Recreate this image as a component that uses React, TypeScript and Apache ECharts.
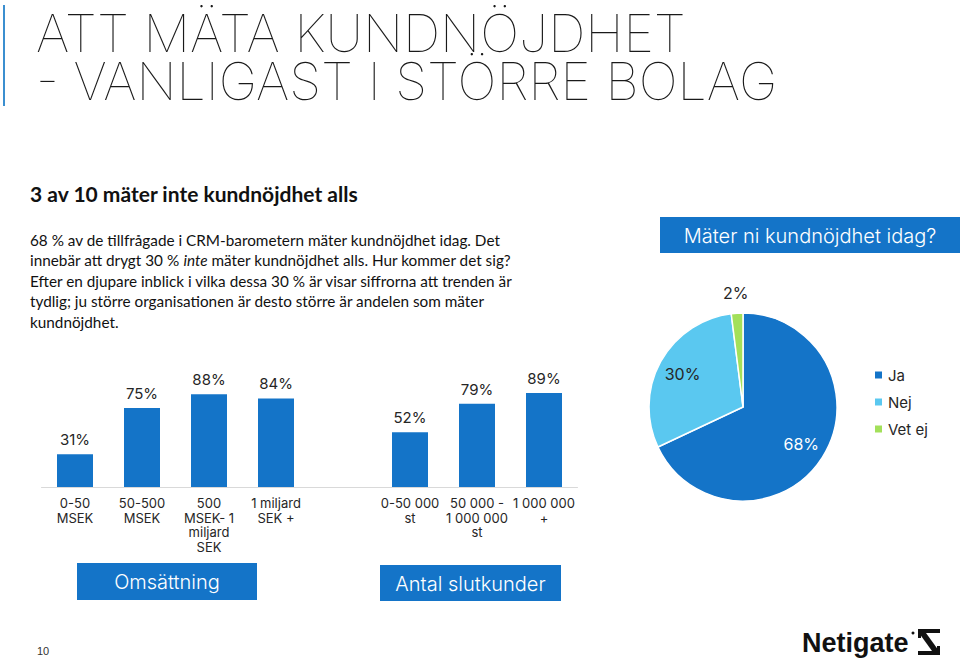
import React, { useEffect, useRef } from "react";
import * as echarts from "echarts";

// ---------- data ----------
const barCategories = [
  "0-50\nMSEK",
  "50-500\nMSEK",
  "500\nMSEK- 1\nmiljard\nSEK",
  "1 miljard\nSEK +",
  "",
  "0-50 000\nst",
  "50 000 -\n1 000 000\nst",
  "1 000 000\n+",
];
const revenueShare = [31, 75, 88, 84];
const customerShare = [52, 79, 89];

const pieNames = ["Ja", "Nej", "Vet ej"];
const pieValues = [68, 30, 2];

// ---------- styles ----------
const BLUE = "#1474c8";
const pieColors = ["#1474c8", "#5ac8f0", "#a3e05a"];
const GEO = "Inter, 'Noto Sans', sans-serif";
const BODY = "Lato, 'Open Sans', sans-serif";
const DARK = "#262626";

export default function App() {
  const ref = useRef<HTMLDivElement>(null);

  useEffect(() => {
    if (!ref.current) return;
    const chart = echarts.init(ref.current, undefined, { renderer: "svg" });

    const barData = [...revenueShare, "-", ...customerShare];
    const pieData = pieNames.map((n, i) => ({
      name: n,
      value: pieValues[i],
      itemStyle: { color: pieColors[i] },
    }));
    const innerLabelData = pieNames.map((n, i) => ({
      name: "lbl-" + n,
      value: pieValues[i],
      label: {
        show: i < 2,
        color: i === 0 ? "#ffffff" : DARK,
      },
    }));
    const outerLabelData = pieNames.map((n, i) => ({
      name: "out-" + n,
      value: pieValues[i],
      label: { show: i === 2, color: DARK },
    }));

    const paragraph = [
      "{n|68 % av de tillfrågade i CRM-barometern mäter kundnöjdhet idag. Det}",
      "{n|innebär att drygt 30 % }{i|inte}{n| mäter kundnöjdhet alls. Hur kommer det sig?}",
      "{n|Efter en djupare inblick i vilka dessa 30 % är visar siffrorna att trenden är}",
      "{n|tydlig; ju större organisationen är desto större är andelen som mäter}",
      "{n|kundnöjdhet.}",
    ].join("\n");

    chart.setOption({
      animation: false,
      backgroundColor: "#ffffff",
      grid: { left: 41.5, width: 536, top: 381.5, height: 105.5, containLabel: false },
      xAxis: {
        type: "category",
        data: barCategories,
        axisTick: { show: false },
        axisLine: { lineStyle: { color: "#d9d9d9", width: 1 } },
        axisLabel: {
          interval: 0,
          margin: 9,
          fontSize: 13,
          lineHeight: 14.5,
          color: DARK,
          fontFamily: GEO,
          verticalAlign: "top",
        },
      },
      yAxis: { type: "value", min: 0, max: 100, show: false },
      legend: {
        data: pieNames,
        orient: "vertical",
        left: 873,
        top: 366,
        padding: 0,
        itemWidth: 9,
        itemHeight: 9,
        itemGap: 9,
        icon: "rect",
        textStyle: { fontSize: 15, color: DARK, fontFamily: GEO, lineHeight: 18 },
      },
      series: [
        {
          type: "bar",
          data: barData,
          barWidth: 36,
          itemStyle: { color: BLUE },
          label: {
            show: true,
            position: "top",
            distance: 7,
            formatter: "{c}%",
            fontSize: 15,
            color: DARK,
            fontFamily: GEO,
          },
        },
        {
          type: "pie",
          center: [743, 407],
          radius: 94,
          startAngle: 90,
          clockwise: true,
          data: pieData,
          label: { show: false },
          labelLine: { show: false },
          itemStyle: { borderColor: "#ffffff", borderWidth: 1.5 },
          z: 2,
        },
        {
          type: "pie",
          center: [743, 407],
          radius: [0, 132],
          startAngle: 90,
          clockwise: true,
          silent: true,
          data: innerLabelData,
          itemStyle: { color: "rgba(0,0,0,0)" },
          label: {
            position: "inside",
            formatter: "{c}%",
            fontSize: 16,
            fontFamily: GEO,
          },
          labelLine: { show: false },
          z: 3,
        },
        {
          type: "pie",
          center: [743, 407],
          radius: [98, 124],
          startAngle: 90,
          clockwise: true,
          silent: true,
          data: outerLabelData,
          itemStyle: { color: "rgba(0,0,0,0)" },
          label: {
            position: "inside",
            formatter: "{c}%",
            fontSize: 16,
            fontFamily: GEO,
          },
          labelLine: { show: false },
          z: 3,
        },
      ],
      graphic: [
        {
          type: "line",
          shape: { x1: 4, y1: 5, x2: 4, y2: 106 },
          style: { stroke: "#3b8fd0", lineWidth: 2 },
        },
        {
          type: "text",
          x: 36,
          y: 9,
          style: {
            text: "ATT MÄTA KUNDNÖJDHET\n- VANLIGAST I STÖRRE BOLAG",
            fontSize: 52,
            lineHeight: 48,
            fontWeight: 100,
            fontFamily: GEO,
            fill: "#1a1a1a",
            textAlign: "left",
            textVerticalAlign: "top",
          },
        },
        {
          type: "text",
          x: 30,
          y: 193,
          style: {
            text: "3 av 10 mäter inte kundnöjdhet alls",
            fontSize: 21,
            fontWeight: "bold",
            fontFamily: BODY,
            fill: "#111111",
            textAlign: "left",
            textVerticalAlign: "middle",
          },
        },
        {
          type: "text",
          x: 30,
          y: 229.5,
          style: {
            text: paragraph,
            fill: "#111111",
            textAlign: "left",
            textVerticalAlign: "top",
            rich: {
              n: { fontSize: 15.3, fontFamily: BODY, fill: "#111111", lineHeight: 20.5 },
              i: { fontSize: 15.3, fontFamily: BODY, fontStyle: "italic", fill: "#111111", lineHeight: 20.5 },
            },
          },
        },
        {
          type: "rect",
          shape: { x: 660, y: 217, width: 300, height: 36 },
          style: { fill: BLUE },
        },
        {
          type: "text",
          x: 810,
          y: 236,
          style: {
            text: "Mäter ni kundnöjdhet idag?",
            fontSize: 20,
            fontWeight: 300,
            fontFamily: GEO,
            fill: "#ffffff",
            textAlign: "center",
            textVerticalAlign: "middle",
          },
        },
        {
          type: "rect",
          shape: { x: 77, y: 563, width: 180, height: 37 },
          style: { fill: BLUE },
        },
        {
          type: "text",
          x: 167,
          y: 582,
          style: {
            text: "Omsättning",
            fontSize: 20,
            fontWeight: 300,
            fontFamily: GEO,
            fill: "#ffffff",
            textAlign: "center",
            textVerticalAlign: "middle",
          },
        },
        {
          type: "rect",
          shape: { x: 380, y: 565, width: 181, height: 36 },
          style: { fill: BLUE },
        },
        {
          type: "text",
          x: 470.5,
          y: 584,
          style: {
            text: "Antal slutkunder",
            fontSize: 20,
            fontWeight: 300,
            fontFamily: GEO,
            fill: "#ffffff",
            textAlign: "center",
            textVerticalAlign: "middle",
          },
        },
        {
          type: "text",
          x: 37,
          y: 651,
          style: {
            text: "10",
            fontSize: 11,
            fontFamily: "'Liberation Sans', Arial, sans-serif",
            fill: "#333333",
            textAlign: "left",
            textVerticalAlign: "middle",
          },
        },
        {
          type: "text",
          x: 802,
          y: 643,
          style: {
            text: "Netigate",
            fontSize: 27,
            fontWeight: "bold",
            fontFamily: "'Liberation Sans', Arial, sans-serif",
            fill: "#111111",
            textAlign: "left",
            textVerticalAlign: "middle",
          },
        },
        {
          type: "circle",
          shape: { cx: 913, cy: 633, r: 1.5 },
          style: { fill: "#111111" },
        },
        {
          type: "rect",
          shape: { x: 918, y: 629, width: 22, height: 4 },
          style: { fill: "#111111" },
        },
        {
          type: "rect",
          shape: { x: 918, y: 651, width: 22, height: 4 },
          style: { fill: "#111111" },
        },
        {
          type: "polygon",
          shape: { points: [[919, 633], [926, 633], [939, 651], [932, 651]] },
          style: { fill: "#111111" },
        },
        {
          type: "rect",
          shape: { x: 918, y: 633, width: 3, height: 5 },
          style: { fill: "#111111" },
        },
        {
          type: "rect",
          shape: { x: 937, y: 646, width: 3, height: 5 },
          style: { fill: "#111111" },
        },
      ],
    });

    return () => chart.dispose();
  }, []);

  return (
    <div
      ref={ref}
      style={{ position: "fixed", left: 0, top: 0, width: 960, height: 661 }}
    />
  );
}
